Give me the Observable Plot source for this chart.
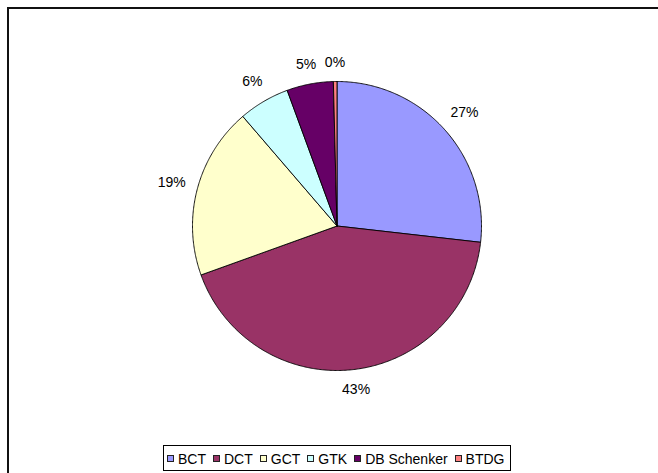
<!DOCTYPE html>
<html>
<head>
<meta charset="utf-8">
<script src="https://cdn.jsdelivr.net/npm/d3@7"></script>
<script src="https://cdn.jsdelivr.net/npm/@observablehq/plot@0.6"></script>
<style>
  html, body { margin: 0; padding: 0; background: #fff; }
  #wrap { position: relative; width: 658px; height: 473px; overflow: hidden; font-family: "Liberation Sans", Arial, sans-serif; }
  #frame { position: absolute; left: 7px; top: 7px; width: 700px; height: 520px; border: 2px solid #111; box-sizing: border-box; pointer-events: none; }
  #legend { position: absolute; left: 163px; top: 445px; width: 348px; height: 26px; border: 1px solid #000; box-sizing: border-box; background: #fff;
            display: flex; align-items: center; padding: 2px 0 0 3px; font-size: 14px; color: #000; white-space: nowrap; }
  .item { display: flex; align-items: center; margin-right: 7px; }
  .sw { width: 7px; height: 7px; border: 1px solid #222; box-sizing: border-box; margin-right: 4px; margin-top: -1px; }
</style>
</head>
<body>
<div id="wrap">
  <div id="chart"></div>
  <div id="frame"></div>
  <div id="legend"></div>
</div>
<script>
const names = ["BCT", "DCT", "GCT", "GTK", "DB Schenker", "BTDG"];
const values = [26.8, 42.7, 19.2, 5.7, 5.2, 0.4];
const labels = ["27%", "43%", "19%", "6%", "5%", "0%"];
const colors = ["#9999FF", "#993366", "#FFFFCC", "#CCFFFF", "#660066", "#FF8080"];

const arcs = d3.pie().sort(null).value(d => d)(values);

// slice outlines as closed polygons in unit-circle coordinates
const pts = [];
arcs.forEach((a, i) => {
  const name = names[i];
  pts.push({name, x: 0, y: 0});
  const n = Math.max(2, Math.ceil((a.endAngle - a.startAngle) / (Math.PI / 360)));
  for (let k = 0; k <= n; k++) {
    const t = a.startAngle + (a.endAngle - a.startAngle) * k / n;
    pts.push({name, x: Math.sin(t), y: Math.cos(t)});
  }
  pts.push({name, x: 0, y: 0});
});

// outside labels: offset from the rim plus half the text box along the direction
const R = 144.5, fs = 14;
const labelData = arcs.map((a, i) => {
  const m = (a.startAngle + a.endAngle) / 2;
  const ux = Math.sin(m), uy = Math.cos(m);
  const hw = (labels[i].length - 1) * 0.556 * fs / 2 + 0.889 * fs / 2;
  const d = (R + 11 + Math.abs(ux) * hw + Math.abs(uy) * 7.5) / R;
  return {text: labels[i], x: d * ux, y: d * uy};
});

const chart = Plot.plot({
  width: 658,
  height: 473,
  marginLeft: 192,
  marginRight: 177,
  marginTop: 81,
  marginBottom: 103,
  x: {domain: [-1, 1], axis: null},
  y: {domain: [-1, 1], axis: null},
  color: {domain: names, range: colors},
  style: {fontFamily: "'Liberation Sans', Arial, sans-serif", background: "transparent", overflow: "visible"},
  marks: [
    Plot.line(pts, {x: "x", y: "y", z: "name", fill: "name", stroke: "#000", strokeWidth: 0.9, strokeLinejoin: "round"}),
    Plot.text(labelData, {x: "x", y: "y", text: "text", fontSize: fs, fill: "#000"})
  ]
});
document.getElementById("chart").appendChild(chart);

const legend = document.getElementById("legend");
names.forEach((n, i) => {
  const it = document.createElement("div");
  it.className = "item";
  const sw = document.createElement("div");
  sw.className = "sw";
  sw.style.background = colors[i];
  const tx = document.createElement("span");
  tx.textContent = n;
  it.appendChild(sw);
  it.appendChild(tx);
  legend.appendChild(it);
});
</script>
</body>
</html>
